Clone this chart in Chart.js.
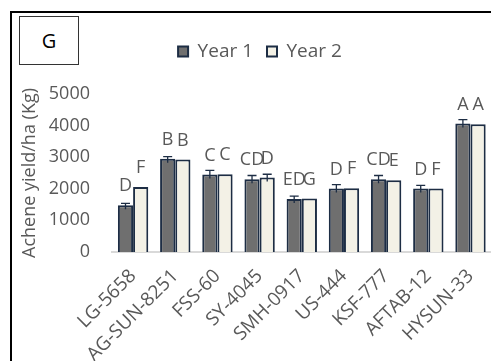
<!DOCTYPE html>
<html>
<head>
<meta charset="utf-8">
<script src="https://cdn.jsdelivr.net/npm/chart.js@4.4.1/dist/chart.umd.min.js"></script>
<style>
  html, body { margin: 0; padding: 0; background: #fff; overflow: hidden; }
  #frame { position: absolute; left: 10px; top: 11px; width: 600px; height: 500px; border: 2px solid #000; }
  #panel { position: absolute; left: 19px; top: 16px; width: 58px; height: 47px; border: 1px solid #333;
           font: 20px "Open Sans", sans-serif; color: #000; display: flex; align-items: center; justify-content: center; }
  #wrap { position: absolute; left: 0; top: 0; width: 500px; height: 361px; }
</style>
</head>
<body>
<div id="frame"></div>
<div id="panel">G</div>
<div id="wrap"><canvas id="c" width="500" height="361"></canvas></div>
<script>
// Sunflower hybrids
const categories = ['LG-5658', 'AG-SUN-8251', 'FSS-60', 'SY-4045', 'SMH-0917', 'US-444', 'KSF-777', 'AFTAB-12', 'HYSUN-33'];
// Achene yield (kg/ha)
const year1 = [1480, 2950, 2450, 2300, 1680, 2010, 2300, 2010, 4070];
const year2 = [2060, 2930, 2460, 2360, 1690, 2020, 2270, 2010, 4040];
// Standard errors
const year1Err = [60, 70, 130, 120, 90, 120, 120, 100, 120];
const year2Err = [0, 0, 0, 100, 0, 0, 0, 0, 0];
// Mean-separation letters
const year1Letters = ['D', 'B', 'C', 'CD', 'ED', 'D', 'CD', 'D', 'A'];
const year2Letters = ['F', 'B', 'C', 'D', 'G', 'F', 'E', 'F', 'A'];
const yTicks = [0, 1000, 2000, 3000, 4000, 5000];

const textColor = '#595959';
const edgeColor = '#1d2d44';
const FONT = '"Open Sans", sans-serif';

const errors = [year1Err, year2Err];
const letters = [year1Letters, year2Letters];

// Error bars and letters drawn on top of the bars
const annotate = {
  id: 'annotate',
  afterDatasetsDraw(chart) {
    const ctx = chart.ctx;
    const y = chart.scales.y;
    chart.data.datasets.forEach((ds, di) => {
      const meta = chart.getDatasetMeta(di);
      meta.data.forEach((bar, i) => {
        const v = ds.data[i];
        const e = errors[di][i];
        ctx.save();
        if (e > 0) {
          const yTop = y.getPixelForValue(v + e);
          const yBar = y.getPixelForValue(v);
          ctx.strokeStyle = edgeColor;
          ctx.lineWidth = 1.3;
          ctx.beginPath();
          ctx.moveTo(bar.x, yBar + 4);
          ctx.lineTo(bar.x, yTop);
          ctx.moveTo(bar.x - 4.5, yTop);
          ctx.lineTo(bar.x + 4.5, yTop);
          ctx.stroke();
        }
        ctx.fillStyle = textColor;
        ctx.font = '18px ' + FONT;
        ctx.textAlign = 'center';
        ctx.textBaseline = 'middle';
        ctx.fillText(letters[di][i], bar.x, y.getPixelForValue(v) - 19);
        ctx.restore();
      });
    });
  }
};

// Extra space between the legend and the plot
const legendGap = {
  id: 'legendGap',
  beforeInit(chart) {
    const fit = chart.legend.fit;
    chart.legend.fit = function () {
      fit.call(this);
      this.height += 23;
    };
  }
};

new Chart(document.getElementById('c'), {
  type: 'bar',
  data: {
    labels: categories,
    datasets: [
      { label: 'Year 1', data: year1, backgroundColor: '#6f6f6f', borderColor: edgeColor, borderWidth: 2,
        categoryPercentage: 0.72, barPercentage: 1.0 },
      { label: 'Year 2', data: year2, backgroundColor: '#f3f1e6', borderColor: edgeColor, borderWidth: 2,
        categoryPercentage: 0.72, barPercentage: 1.0 }
    ]
  },
  options: {
    responsive: false,
    animation: false,
    devicePixelRatio: 1,
    layout: { padding: { left: 27, right: 7, top: 28, bottom: -18 } },
    plugins: {
      legend: {
        position: 'top',
        labels: {
          color: textColor,
          font: { family: FONT, size: 19 },
          boxWidth: 10,
          boxHeight: 10,
          padding: 14
        }
      },
      tooltip: { enabled: false }
    },
    scales: {
      x: {
        grid: { display: false, drawTicks: false },
        border: { display: true, color: '#d9d9d9', width: 2 },
        ticks: {
          color: textColor,
          font: { family: FONT, size: 19 },
          minRotation: 45,
          maxRotation: 45,
          autoSkip: false,
          padding: 13
        }
      },
      y: {
        min: 0,
        max: 5000,
        afterBuildTicks(scale) { scale.ticks = yTicks.map(v => ({ value: v })); },
        afterFit(scale) { scale.width = 85; },
        grid: { display: false, drawTicks: false },
        border: { display: false },
        ticks: {
          color: textColor,
          font: { family: FONT, size: 18 },
          padding: 22,
          callback: (v) => String(v)
        },
        title: {
          display: true,
          text: 'Achene yield/ha (Kg)',
          color: textColor,
          font: { family: FONT, size: 18 },
          padding: { top: -8, bottom: 0 }
        }
      }
    }
  },
  plugins: [annotate, legendGap]
});
</script>
</body>
</html>
